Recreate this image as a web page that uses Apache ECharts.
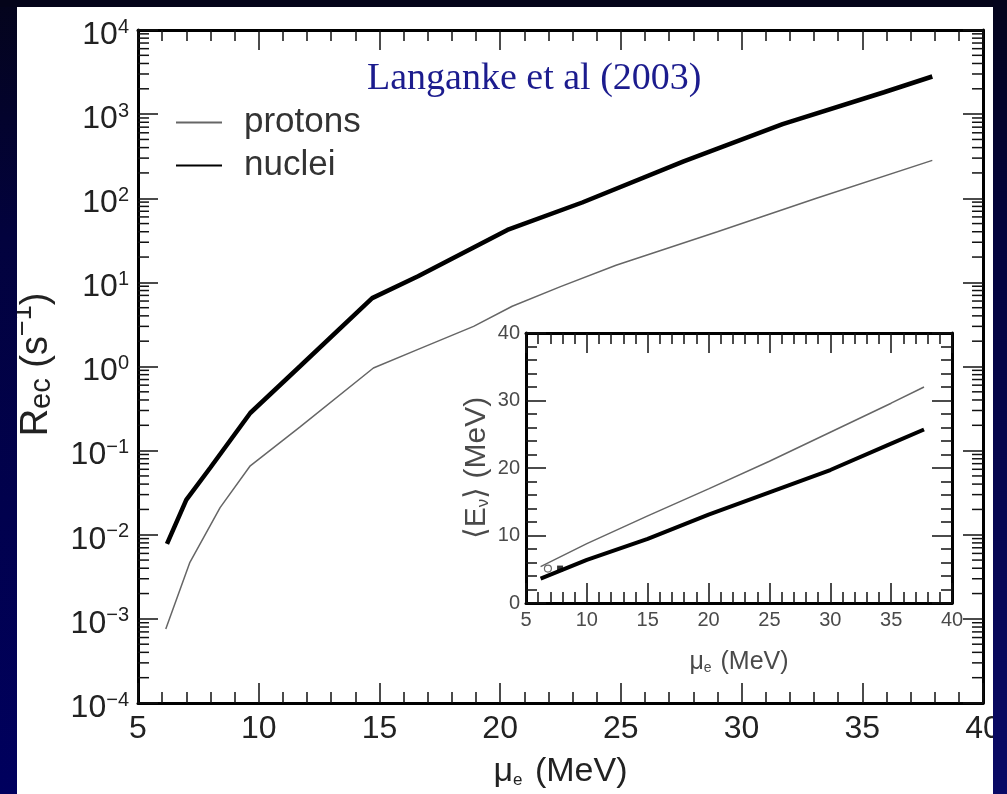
<!DOCTYPE html>
<html><head><meta charset="utf-8">
<script src="https://cdn.jsdelivr.net/npm/echarts@6/dist/echarts.min.js"></script>
<style>
html,body{margin:0;padding:0;width:1007px;height:794px;overflow:hidden;background:#fff;}
#chart{position:absolute;left:0;top:0;width:1007px;height:794px;}
.strip{position:absolute;pointer-events:none;}
#sl{left:0;top:0;width:17px;height:794px;background:linear-gradient(to bottom,#04041c 0%,#02023e 30%,#00005e 100%);}
#st{left:0;top:0;width:1007px;height:7px;background:#04041a;}
#sr{left:993px;top:0;width:14px;height:794px;background:linear-gradient(to bottom,#04041c 0%,#03033e 30%,#0a0a66 100%);}
</style></head><body><div id="chart"></div><div class="strip" id="sl"></div><div class="strip" id="st"></div><div class="strip" id="sr"></div>
<script>
// ---- data ----
const seriesNames = ['protons', 'nuclei'];
const muProtons   = [6.15, 7.15, 8.4, 9.65, 11.7, 14.75, 16.6, 18.9, 20.5, 22.5, 24.8, 29.0, 33.1, 37.9];
const rateProtons = [7.6e-4, 4.7e-3, 0.021, 0.066, 0.19, 0.96, 1.6, 3.0, 5.2, 8.9, 16, 40, 100, 282];
const muNuclei    = [6.2, 7.0, 8.0, 9.65, 11.7, 14.7, 16.6, 20.3, 23.4, 27.6, 31.7, 35.9, 37.9];
const rateNuclei  = [0.0078, 0.026, 0.063, 0.28, 1.0, 6.5, 11.8, 42, 89, 275, 760, 1820, 2800];
// inset: mean neutrino energy
const insetMu       = [6.2, 10, 15, 20, 25, 30, 35, 37.7];
const insetProtons  = [5.4, 8.8, 12.9, 16.9, 21.0, 25.3, 29.6, 32.0];
const insetNuclei   = [3.6, 6.4, 9.5, 13.1, 16.4, 19.7, 23.6, 25.7];
const insetOpenPt   = [[6.8, 5.1]];
const insetFilledPt = [[7.8, 5.1]];
// log-axis minor tick positions (axis decoration)
const logDecades = [-4, -3, -2, -1, 0, 1, 2, 3];
const logMinorMultipliers = [2, 3, 4, 5, 6, 7, 8, 9];
const titleText = 'Langanke et al (2003)';

const SANS = "'Liberation Sans', Arial, sans-serif";
const zip = (a, b) => a.map((v, i) => [v, b[i]]);
const logMinorValues = [];
logDecades.forEach(d => logMinorMultipliers.forEach(m => logMinorValues.push(m * Math.pow(10, d))));

function supLabel(v) {
  const e = Math.round(Math.log10(v));
  const s = e < 0 ? '\u2212' + (-e) : String(e);
  return '{b|10}{s|' + s + '}';
}
const axisLineStyle = { color: '#000', width: 3 };
const tickStyle = { color: '#111', width: 1.5 };

function mainX(pos, show) {
  return {
    gridIndex: 0, type: 'value', position: pos, min: 5, max: 40, interval: 5,
    axisLine: { show: true, onZero: false, lineStyle: axisLineStyle },
    axisTick: { show: true, inside: true, length: 20, lineStyle: tickStyle },
    minorTick: { show: true, splitNumber: 5, length: 11, lineStyle: tickStyle },
    splitLine: { show: false },
    axisLabel: { show: show, fontFamily: SANS, fontSize: 32, color: '#222', margin: 10 },
    name: show ? '{m|\u03bc}{sub|e}{m| (MeV)}' : '',
    nameLocation: 'middle', nameGap: 52,
    nameTextStyle: { fontFamily: SANS, fontSize: 34, color: '#222',
      rich: { m: { fontFamily: SANS, fontSize: 34, color: '#222' },
              sub: { fontFamily: SANS, fontSize: 17, color: '#222', verticalAlign: 'bottom', padding: [0, 3, 0, 0] } } }
  };
}
function mainY(pos, show) {
  return {
    gridIndex: 0, type: 'log', logBase: 10, position: pos, min: 1e-4, max: 1e4,
    axisLine: { show: true, onZero: false, lineStyle: axisLineStyle },
    axisTick: { show: true, inside: true, length: 20, lineStyle: tickStyle },
    minorTick: { show: false },
    splitLine: { show: false },
    axisLabel: { show: show, margin: 9, formatter: supLabel,
      rich: { b: { fontFamily: SANS, fontSize: 32, lineHeight: 32, color: '#222', padding: [10, 0, 0, 0] },
              s: { fontFamily: SANS, fontSize: 20, lineHeight: 20, color: '#222', verticalAlign: 'top', padding: [3, 0, 0, 0] } } },
    name: show ? '{m0|R}{sub|ec}{m| (s}{sup|\u22121}{m|)}' : '',
    nameLocation: 'middle', nameGap: 82, nameRotate: 90,
    nameTextStyle: { fontFamily: SANS, fontSize: 38, color: '#222',
      rich: { m0: { fontFamily: SANS, fontSize: 38, color: '#222', padding: [8, 0, 0, 4] },
              m: { fontFamily: SANS, fontSize: 38, color: '#222', padding: [8, 0, 0, 0] },
              sub: { fontFamily: SANS, fontSize: 29, color: '#222', verticalAlign: 'bottom' },
              sup: { fontFamily: SANS, fontSize: 27, color: '#222', verticalAlign: 'top' } } }
  };
}
function insetX(pos, show) {
  return {
    gridIndex: 1, type: 'value', position: pos, min: 5, max: 40, interval: 5,
    axisLine: { show: true, onZero: false, lineStyle: axisLineStyle },
    axisTick: { show: true, inside: true, length: 20, lineStyle: tickStyle },
    minorTick: { show: true, splitNumber: 5, length: 11, lineStyle: tickStyle },
    splitLine: { show: false },
    axisLabel: { show: show, fontFamily: SANS, fontSize: 20, color: '#4a4a4a', margin: 7 },
    name: show ? '{m|\u03bc}{sub|e}{m| (MeV)}' : '',
    nameLocation: 'middle', nameGap: 47,
    nameTextStyle: { fontFamily: SANS, fontSize: 25, color: '#4a4a4a',
      rich: { m: { fontFamily: SANS, fontSize: 25, color: '#4a4a4a' },
              sub: { fontFamily: SANS, fontSize: 14, color: '#4a4a4a', verticalAlign: 'bottom', padding: [0, 2, 0, 0] } } }
  };
}
function insetY(pos, show) {
  return {
    gridIndex: 1, type: 'value', position: pos, min: 0, max: 40, interval: 10,
    axisLine: { show: true, onZero: false, lineStyle: axisLineStyle },
    axisTick: { show: true, inside: true, length: 20, lineStyle: tickStyle },
    minorTick: { show: true, splitNumber: 5, length: 11, lineStyle: tickStyle },
    splitLine: { show: false },
    axisLabel: { show: show, fontFamily: SANS, fontSize: 20, color: '#4a4a4a', margin: 6 },
    name: show ? '{m|\u27e8E}{sub|\u03bd}{m|\u27e9 (MeV)}' : '',
    nameLocation: 'middle', nameGap: 34, nameRotate: 90,
    nameTextStyle: { fontFamily: SANS, fontSize: 30, color: '#4a4a4a',
      rich: { m: { fontFamily: SANS, fontSize: 30, color: '#4a4a4a' },
              sub: { fontFamily: SANS, fontSize: 17, color: '#4a4a4a', verticalAlign: 'bottom' } } }
  };
}

const chart = echarts.init(document.getElementById('chart'), null, { renderer: 'canvas' });
chart.setOption({
  animation: false,
  backgroundColor: '#fff',
  title: { text: titleText, left: 367, top: 60, padding: 0,
    textStyle: { fontFamily: "'Liberation Serif', 'Times New Roman', serif", fontSize: 38, fontWeight: 'normal', color: '#1c1c8e' } },
  legend: {
    data: seriesNames, orient: 'vertical', left: 175, top: 102, padding: 0,
    itemWidth: 46, itemHeight: 14, itemGap: 2,
    itemStyle: { opacity: 0 },
    textStyle: { fontFamily: SANS, fontSize: 35, color: '#333', lineHeight: 41, padding: [0, 0, 0, 17] }
  },
  grid: [
    { left: 138, right: 24, top: 30, bottom: 90 },
    { left: 526, right: 55, top: 333, bottom: 191 }
  ],
  xAxis: [mainX('bottom', true), mainX('top', false), insetX('bottom', true), insetX('top', false)],
  yAxis: [mainY('left', true), mainY('right', false), insetY('left', true), insetY('right', false)],
  series: [
    { name: seriesNames[0], type: 'line', xAxisIndex: 0, yAxisIndex: 0, symbol: 'none',
      data: zip(muProtons, rateProtons), lineStyle: { color: '#666', width: 1.5 }, itemStyle: { color: '#666' } },
    { name: seriesNames[1], type: 'line', xAxisIndex: 0, yAxisIndex: 0, symbol: 'none',
      data: zip(muNuclei, rateNuclei), lineStyle: { color: '#000', width: 4.5 }, itemStyle: { color: '#000' } },
    { type: 'line', xAxisIndex: 2, yAxisIndex: 2, symbol: 'none',
      data: zip(insetMu, insetProtons), lineStyle: { color: '#666', width: 1.5 } },
    { type: 'line', xAxisIndex: 2, yAxisIndex: 2, symbol: 'none',
      data: zip(insetMu, insetNuclei), lineStyle: { color: '#000', width: 4 } },
    { type: 'scatter', xAxisIndex: 2, yAxisIndex: 2, symbol: 'circle', symbolSize: 7,
      data: insetOpenPt, itemStyle: { color: '#fff', borderColor: '#444', borderWidth: 1.2 } },
    { type: 'scatter', xAxisIndex: 2, yAxisIndex: 2, symbol: 'rect', symbolSize: 6,
      data: insetFilledPt, itemStyle: { color: '#000' } }
  ]
});

// log minor ticks on both sides of the main frame, placed through the chart's own log scale
const finder = { xAxisIndex: 0, yAxisIndex: 0 };
const minorTickGraphics = [];
logMinorValues.forEach(v => {
  const pL = chart.convertToPixel(finder, [5, v]);
  const pR = chart.convertToPixel(finder, [40, v]);
  if (!pL || !pR) return;
  minorTickGraphics.push({ type: 'line', silent: true, z: 50, shape: { x1: pL[0], y1: pL[1], x2: pL[0] + 11, y2: pL[1] }, style: { stroke: '#111', lineWidth: 1.5 } });
  minorTickGraphics.push({ type: 'line', silent: true, z: 50, shape: { x1: pR[0], y1: pR[1], x2: pR[0] - 11, y2: pR[1] }, style: { stroke: '#111', lineWidth: 1.5 } });
});
chart.setOption({ graphic: minorTickGraphics });
</script></body></html>
